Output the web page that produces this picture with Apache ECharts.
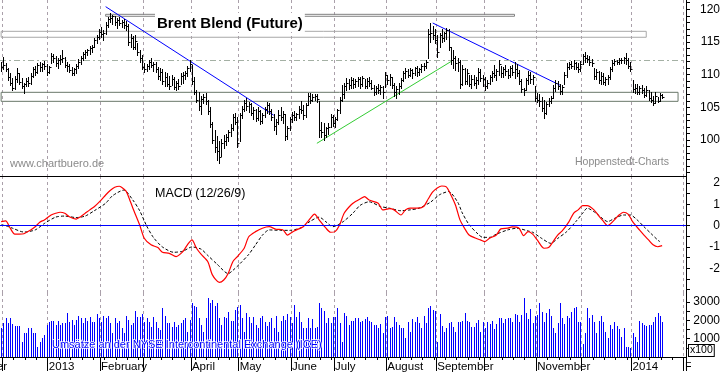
<!DOCTYPE html>
<html><head><meta charset="utf-8">
<script src="https://cdn.jsdelivr.net/npm/echarts@6/dist/echarts.min.js"></script>
<style>html,body{margin:0;padding:0;background:#fff}#c{width:723px;height:373px}</style>
</head><body><div id="c"></div>
<script>
// ---- Brent Blend (Future), daily bars, Dec 2012 - Jan 2014 ----
const high = [
112.0,112.7,111.8,111.0,110.2,109.5,109.8,111.0,110.3,109.5,
108.8,109.5,109.6,110.2,111.2,111.3,111.8,112.0,111.8,112.1,
111.6,111.4,113.3,113.1,112.8,112.6,113.0,113.8,112.7,112.0,
111.6,111.2,111.0,111.6,112.4,112.8,113.4,113.8,114.0,114.4,
114.6,115.6,116.0,117.0,117.3,116.8,118.0,118.8,119.4,119.2,
119.0,118.6,118.8,118.4,118.5,118.2,117.8,116.2,115.9,116.0,
114.8,113.8,113.0,111.8,111.6,112.3,112.5,112.0,111.9,111.2,
111.0,110.8,110.4,110.2,109.8,110.0,109.6,109.0,109.4,110.2,
110.4,110.6,111.4,112.2,111.5,109.6,107.6,107.3,106.8,107.0,
107.2,106.2,105.0,102.8,101.5,100.6,99.8,100.2,100.8,101.0,
101.6,102.5,104.0,104.2,103.5,104.2,105.2,106.2,106.4,105.8,
105.6,105.0,104.8,105.0,104.6,104.2,105.0,105.8,105.6,104.8,
104.0,103.2,104.6,105.0,104.4,104.0,102.2,103.5,104.3,104.5,
104.2,105.2,106.0,105.4,105.6,107.2,107.2,107.0,107.0,107.0,
106.0,102.8,102.6,102.0,102.6,104.0,103.8,103.6,104.8,106.6,
108.4,108.7,109.5,109.3,109.6,109.5,109.4,109.7,109.6,109.8,
109.4,109.5,109.6,109.2,108.4,108.2,108.5,108.4,108.3,110.4,
110.0,110.1,109.6,108.7,108.2,108.7,109.5,110.6,111.0,110.8,
111.0,110.9,111.2,111.3,111.0,111.6,111.8,112.2,117.0,117.9,
117.4,117.0,116.0,116.4,117.0,116.6,117.2,117.0,114.2,113.8,
112.8,112.5,112.2,111.5,111.0,110.8,110.0,109.9,110.0,109.6,
111.0,110.8,110.0,109.7,109.2,110.0,110.6,111.5,110.8,112.2,
111.4,111.2,111.5,110.9,111.3,111.5,112.0,111.6,110.7,109.4,
108.0,109.5,110.6,110.4,110.0,108.2,107.2,107.0,106.6,106.1,
105.8,106.4,106.8,108.4,109.2,109.0,108.6,108.4,110.4,111.8,
112.0,112.1,112.2,112.0,111.8,112.1,113.2,113.5,113.0,112.8,
112.4,111.0,110.8,110.6,110.4,110.2,109.7,110.0,111.2,112.2,
112.4,112.3,112.6,112.5,112.7,113.3,112.6,112.0,109.2,108.6,
108.5,108.3,108.4,108.0,108.3,107.6,107.4,106.8,107.4,106.6,
107.2,107.0];
const low = [
110.6,110.8,110.5,109.2,108.4,107.6,107.8,108.9,108.6,107.9,
107.2,108.2,108.3,108.5,109.6,109.9,110.3,110.6,110.5,110.9,
110.0,110.2,111.8,112.0,111.4,111.0,111.6,112.0,111.2,110.6,
110.4,110.0,110.0,110.3,111.0,111.6,112.2,112.6,113.0,113.2,
113.5,114.3,114.8,115.5,115.8,115.3,116.2,117.3,118.0,117.8,
117.6,117.2,117.6,117.3,117.2,116.9,114.5,114.2,113.9,114.0,
113.0,112.0,110.8,110.4,110.5,110.9,111.2,110.6,110.4,109.4,
109.2,108.6,108.3,108.2,107.8,108.4,107.8,107.6,107.8,108.6,
108.8,109.3,109.8,110.5,108.6,107.0,105.8,104.6,104.0,105.6,
105.5,104.0,102.0,99.5,98.2,97.0,96.5,97.6,98.8,99.3,
99.8,100.6,101.5,102.4,99.0,99.8,103.4,104.4,104.6,104.3,
103.8,103.2,102.9,103.0,102.5,102.6,103.6,104.2,104.0,103.0,
101.6,101.0,102.5,103.0,102.6,100.0,100.2,101.5,102.8,103.0,
103.0,103.4,104.2,103.2,103.6,105.4,105.7,105.9,106.2,105.8,
100.5,100.4,100.0,100.4,101.0,102.0,102.2,102.0,103.0,104.2,
106.0,106.5,107.6,107.8,108.0,108.0,108.1,108.2,108.0,108.3,
108.0,108.0,108.2,107.8,106.9,107.0,107.2,107.1,106.4,108.1,
108.6,108.4,108.0,106.8,106.4,107.0,108.0,109.0,109.5,109.6,
109.8,109.5,109.9,109.8,109.9,110.4,110.7,111.0,112.5,115.0,
115.4,114.8,112.7,114.2,115.0,115.2,115.4,113.8,111.6,111.0,
110.7,110.6,108.0,108.4,108.6,108.5,108.2,108.0,108.4,108.0,
108.5,109.0,108.3,107.7,107.9,108.6,109.0,109.6,109.2,110.0,
109.6,109.6,110.0,109.5,109.6,110.0,109.5,109.8,108.6,107.3,
106.9,107.6,108.5,108.8,108.6,106.0,105.8,105.2,104.4,103.3,
104.0,105.2,105.6,106.4,107.5,107.8,107.0,107.0,108.6,109.6,
110.8,111.0,110.9,110.8,110.4,110.6,111.6,112.0,111.9,111.5,
111.4,109.4,109.4,108.8,108.6,108.5,108.4,108.6,109.4,110.6,
111.5,111.6,111.7,111.8,111.8,111.6,111.0,110.6,107.4,107.2,
107.0,107.0,107.2,106.6,106.8,106.2,105.8,105.4,105.6,105.8,
105.9,106.4];
const close = [
111.2,111.5,110.9,109.6,108.8,108.0,109.3,110.2,108.9,108.3,
108.6,109.0,108.7,109.8,110.8,110.4,111.5,111.1,111.6,111.3,
110.4,111.2,112.8,112.6,111.8,112.2,112.4,112.5,111.5,111.4,
110.7,110.3,110.8,111.4,112.0,112.5,113.1,113.5,113.7,114.1,
114.3,115.3,115.8,116.6,116.2,116.4,117.6,118.5,118.7,118.9,
118.0,118.3,117.9,118.1,117.6,117.4,115.0,115.6,114.3,115.2,
113.4,112.6,111.2,110.8,111.3,112.0,111.5,111.6,110.8,109.8,
110.4,109.0,109.7,108.6,108.2,109.4,108.1,108.7,108.3,109.8,
110.0,110.2,111.0,111.6,109.0,107.3,106.2,105.2,106.3,106.6,
105.9,104.4,102.4,100.0,99.0,98.3,97.4,99.6,99.8,100.5,
101.2,101.8,103.6,102.8,99.6,103.8,104.8,105.6,105.2,105.5,
104.2,104.6,103.4,104.5,102.9,103.8,104.7,105.4,104.4,103.6,
102.2,102.8,103.9,103.5,104.0,100.6,101.8,103.2,103.8,103.5,
104.0,104.8,104.6,103.8,105.3,106.8,106.2,106.6,106.8,106.3,
101.6,101.2,100.8,101.8,102.0,103.5,102.6,103.2,104.6,106.2,
107.0,108.2,108.8,108.4,109.2,108.5,109.0,109.3,108.6,109.5,
108.3,109.1,108.8,108.0,107.4,107.9,107.6,108.1,107.4,110.0,
109.2,109.6,108.4,107.4,107.8,108.3,109.2,110.3,110.6,110.0,
110.7,110.2,111.0,110.4,110.8,111.3,111.4,112.0,116.2,116.4,
116.0,115.3,113.4,116.0,115.6,116.3,116.8,114.2,112.3,112.6,
111.8,112.0,108.6,110.8,109.0,110.2,108.6,109.4,108.8,109.2,
110.4,109.5,109.3,108.2,108.8,109.6,110.2,110.0,110.6,111.6,
110.2,110.8,110.5,110.0,111.0,110.4,110.8,110.2,109.0,107.8,
107.6,109.2,110.0,109.4,109.6,106.4,106.2,106.0,104.9,104.2,
105.5,106.0,106.5,107.9,108.8,108.3,107.5,108.1,110.0,111.2,
111.6,111.4,111.8,111.2,110.9,111.7,112.8,112.6,112.4,112.0,
111.8,109.8,110.4,109.2,109.8,108.9,109.3,109.7,110.9,111.8,
112.1,112.0,112.2,112.3,112.5,112.2,111.4,110.9,107.8,108.0,
107.4,107.9,107.6,106.9,107.7,106.5,106.2,105.7,106.8,106.0,
106.9,106.6];
// volume, x100 contracts
const volume = [
1600,1840,2110,1840,2150,1800,1690,1690,1690,840,
1290,1290,1600,1600,1290,1290,530,840,1020,1200,
1750,1890,1960,1960,1750,1960,1750,1840,1840,2420,
1890,2020,1750,2020,2260,2110,1840,2110,1960,2200,
1930,1890,2350,2110,1930,2260,2110,2260,1840,1290,
2110,1840,1960,1560,1290,2260,2020,1750,1840,2510,
2200,2200,2330,1930,2110,1930,1650,2200,1930,1560,
1470,2690,2260,1840,1840,1650,1930,1650,1750,1840,
2020,2110,1380,2020,2980,2800,2750,2110,1750,1380,
2150,3240,2930,3110,2800,2960,2110,1750,2200,2110,
2440,1960,1960,2560,2750,2870,2110,1380,2420,2200,
1840,2200,1750,1560,2110,2260,1930,1690,1890,2110,
1560,2260,1380,1960,2260,2020,2330,2200,1840,2840,
2200,2440,1930,1560,1600,2110,1560,2070,1560,1650,
2980,2660,2510,1840,2110,1840,2200,2200,2660,1840,
840,2380,2260,1750,1960,1960,2110,2110,1890,1960,
2070,2200,1960,1890,1750,1750,1560,1800,1290,2200,
2260,1600,1650,2200,1890,1750,1560,1560,1020,1930,
1380,2070,1930,2200,1840,1560,2260,1840,2660,2800,
2560,2530,840,2330,1710,1380,1560,1840,1930,1650,
1380,1930,
1930,1960,2420,1960,1930,1650,1650,1840,2020,1380,
1930,1560,1890,1800,1960,1530,1800,2110,2110,1840,
2070,2150,2150,1890,2330,2290,1890,2290,3200,2380,
2070,2620,1840,2260,2290,2930,2470,1930,2380,2620,
2260,1560,1290,1840,2980,2110,1800,2260,2150,2440,
2660,2750,1930,1890,690,1290,2660,2150,2290,1930,
1290,1960,2260,1930,1350,1020,1750,1530,1890,1710,
1530,1110,1560,560,530,510,1290,1110,840,1980,
1840,1750,1690,1750,1750,1930,2200,2380,2260,1930];
// MACD (12/26/9): [day index, value]
const macd = [[0,0.19],[2,0.22],[4,-0.12],[6,-0.40],[8,-0.40],[10,-0.38],[13,-0.20],[15,-0.05],[17,0.16],[19,0.27],[22,0.50],[24,0.58],[26,0.63],[28,0.58],[30,0.42],[33,0.31],[35,0.42],[37,0.58],[39,0.74],[41,0.89],[44,1.20],[46,1.44],[48,1.65],[50,1.80],[52,1.85],[53,1.80],[55,1.62],[56,1.38],[58,0.82],[61,0.03],[63,-0.59],[66,-0.90],[69,-1.03],[71,-1.25],[74,-1.30],[77,-1.45],[80,-1.22],[82,-0.90],[84,-0.67],[86,-1.06],[88,-1.34],[91,-1.69],[93,-2.31],[96,-2.66],[98,-2.55],[100,-2.23],[102,-1.69],[104,-1.45],[107,-1.06],[109,-0.52],[112,-0.28],[115,-0.12],[118,-0.05],[121,-0.17],[124,-0.19],[126,-0.44],[129,-0.25],[133,-0.05],[135,0.19],[138,0.54],[140,0.27],[143,-0.12],[145,-0.31],[147,-0.28],[149,0.03],[151,0.58],[154,0.97],[156,1.13],[158,1.25],[160,1.36],[162,1.20],[166,1.05],[168,0.74],[171,0.80],[173,0.74],[176,0.50],[178,0.74],[180,0.82],[183,0.82],[186,0.90],[188,1.25],[190,1.58],[192,1.77],[194,1.86],[196,1.82],[198,1.44],[200,0.97],[202,0.27],[204,-0.12],[206,-0.44],[209,-0.59],[211,-0.67],[213,-0.75],[215,-0.59],[218,-0.44],[220,-0.15],[223,-0.12],[225,-0.06],[228,-0.12],[230,-0.47],[232,-0.28],[234,-0.40],[236,-0.67],[239,-1.06],[241,-1.03],[243,-0.75],[245,-0.44],[247,-0.25],[250,0.19],[252,0.58],[254,0.74],[256,0.94],[258,0.94],[261,0.74],[263,0.47],[265,0.22],[267,0.00],[270,0.27],[272,0.50],[274,0.63],[276,0.54],[278,0.19],[281,-0.20],[283,-0.44],[285,-0.67],[287,-0.90],[289,-0.99],[291,-0.94]];
const signal = [[0,0.03],[2,0.00],[5,-0.12],[10,-0.30],[15,-0.20],[19,0.10],[24,0.40],[28,0.45],[33,0.38],[37,0.45],[41,0.70],[46,1.05],[49,1.40],[54,1.67],[58,1.20],[61,0.70],[64,0.00],[67,-0.55],[71,-1.00],[76,-1.25],[80,-1.20],[84,-1.00],[88,-1.10],[91,-1.40],[95,-1.80],[100,-2.25],[102,-2.10],[105,-1.80],[109,-1.35],[112,-0.90],[115,-0.45],[118,-0.20],[123,-0.22],[127,-0.22],[132,-0.10],[136,0.20],[140,0.40],[143,0.18],[146,-0.05],[148,0.02],[151,0.22],[155,0.60],[158,0.95],[162,1.12],[167,0.90],[171,0.82],[176,0.70],[180,0.74],[184,0.82],[189,1.10],[193,1.45],[197,1.60],[201,1.10],[203,0.60],[206,0.05],[210,-0.40],[212,-0.55],[215,-0.55],[218,-0.40],[223,-0.20],[227,-0.12],[232,-0.25],[234,-0.31],[238,-0.60],[242,-0.83],[245,-0.60],[249,-0.28],[253,0.19],[256,0.58],[258,0.82],[262,0.58],[265,0.31],[267,0.19],[270,0.34],[274,0.50],[277,0.50],[280,0.27],[283,-0.05],[286,-0.36],[289,-0.67],[290,-0.75]];
// calendar (trading-day slots) and month starts
const slotCount = 302;
const monthStarts = [1, 21, 44, 63, 84, 105, 128, 147, 170, 192, 213, 236, 256, 278, 301];
const monthLabels = ['', '2013', 'February', '', 'April', 'May', 'June', 'July', 'August', 'September', '', 'November', '', '2014', ''];
const priceTicks = [100, 105, 110, 115, 120];
const macdTicks = [-2, -1, 0, 1, 2];
const volumeTicks = [1000, 2000, 3000];
// chart annotations (day index, price)
const trendDown1 = [[46, 120.4], [120, 103.8]];
const trendDown2 = [[190, 117.9], [246, 108.4]];
const trendUp = [[139, 99.5], [198, 112.0]];
const titleBox = [[46, 119.23], [226, 118.93]];
const upperBand = [[0, 116.63], [284, 115.72]];
const supportBand = [[0, 107.30], [298, 105.92]];
const resistanceLevel = 112.17;

const days = Array.from({length: slotCount}, (_, i) => String(i));
const FONT = '"Liberation Sans", Arial, sans-serif';
const isMonth = (i) => monthStarts.indexOf(i) >= 0;
const gridColor = '#aaa0aa';

function xAxisFor(g) {
  return {
    type: 'category', gridIndex: g, data: days, boundaryGap: true,
    axisLine: {show: true, lineStyle: {color: '#000', width: 1}},
    axisTick: {show: false}, axisLabel: {show: false},
    splitLine: {show: true, interval: (i) => isMonth(i), lineStyle: {color: gridColor, type: [3, 3], width: 1}}
  };
}
const xMain = xAxisFor(2);
xMain.axisTick = {show: true, interval: (i) => isMonth(i), length: 14, lineStyle: {color: '#000'}};
xMain.axisLabel = {
  show: true, interval: (i) => isMonth(i) && monthLabels[monthStarts.indexOf(i)] !== '',
  formatter: (v) => { const k = monthStarts.indexOf(Number(v)); return k >= 0 ? monthLabels[k] : ''; },
  align: 'left', margin: 4, color: '#000', fontSize: 11.5, fontFamily: FONT
};
const xWeek = {
  type: 'category', gridIndex: 2, data: days, boundaryGap: true, position: 'bottom',
  axisLine: {show: false}, axisLabel: {show: false}, splitLine: {show: false},
  axisTick: {show: true, interval: (i) => i % 5 === 1, length: 3, lineStyle: {color: '#000'}}
};

const priceMinor = []; for (let v = 95; v <= 121; v++) priceMinor.push(v);
const macdMinor = []; for (let v = -3; v <= 2; v += 0.5) macdMinor.push(v);
const volMinor = []; for (let v = 500; v <= 3000; v += 500) volMinor.push(v);

function yAxisFor(g, min, max, labels, ticks) {
  return {
    type: 'value', gridIndex: g, position: 'right', min: min, max: max,
    axisLine: {show: true, lineStyle: {color: '#000', width: 1}},
    axisTick: {show: true, customValues: ticks, length: 4, lineStyle: {color: '#000'}},
    axisLabel: {show: true, customValues: labels, align: 'right', margin: 34, color: '#000', fontSize: 12, fontFamily: FONT,
      formatter: (v) => String(v)},
    splitLine: {show: false}
  };
}

const ohlc = high.map((h, i) => [i, h, low[i], close[i]]);
const vol = volume.map((v, i) => [i, v]);

const chart = echarts.init(document.getElementById('c'), null, {renderer: 'canvas'});
chart.setOption({
  animation: false,
  backgroundColor: '#fff',
  textStyle: {fontFamily: FONT},
  grid: [
    {left: 0, right: 37, top: 0, height: 176, outerBoundsMode: 'none', containLabel: false},
    {left: 0, right: 37, top: 176, height: 117, outerBoundsMode: 'none', containLabel: false},
    {left: 0, right: 37, top: 293, height: 64, outerBoundsMode: 'none', containLabel: false}
  ],
  xAxis: [xAxisFor(0), xAxisFor(1), xMain, xWeek],
  yAxis: [
    yAxisFor(0, 94.5, 121.42, priceTicks, priceMinor),
    yAxisFor(1, -3.16, 2.33, macdTicks, macdMinor),
    yAxisFor(2, 0, 3500, volumeTicks, volMinor)
  ],
  series: [
    {
      type: 'custom', name: 'Brent', xAxisIndex: 0, yAxisIndex: 0, data: ohlc,
      encode: {x: 0, y: [1, 2, 3]}, clip: true, z: 5,
      renderItem: function (params, api) {
        const i = api.value(0);
        const pH = api.coord([i, api.value(1)]);
        const pL = api.coord([i, api.value(2)]);
        const pC = api.coord([i, api.value(3)]);
        const x = Math.round(pH[0]) + 0.5;
        const yc = Math.round(pC[1]) + 0.5;
        return {type: 'group', children: [
          {type: 'line', shape: {x1: x, y1: Math.round(pH[1]), x2: x, y2: Math.round(pL[1]) + 1}, style: {stroke: '#000', lineWidth: 1}},
          {type: 'line', shape: {x1: x, y1: yc, x2: x + 2, y2: yc}, style: {stroke: '#000', lineWidth: 1}}
        ]};
      },
      markArea: {
        silent: true,
        data: [
          [{coord: titleBox[0], itemStyle: {color: 'rgba(0,0,0,0)', borderColor: '#808080', borderWidth: 1}}, {coord: titleBox[1]}],
          [{coord: upperBand[0], itemStyle: {color: 'rgba(0,0,0,0)', borderColor: '#a8a8a8', borderWidth: 1}}, {coord: upperBand[1]}],
          [{coord: supportBand[0], itemStyle: {color: 'rgba(0,0,0,0)', borderColor: '#6a786a', borderWidth: 1}}, {coord: supportBand[1]}]
        ]
      },
      markLine: {
        silent: true, symbol: ['none', 'none'], label: {show: false},
        data: [
          [{coord: trendDown1[0], lineStyle: {color: '#0000ff', width: 1, type: 'solid'}}, {coord: trendDown1[1]}],
          [{coord: trendDown2[0], lineStyle: {color: '#0000ff', width: 1, type: 'solid'}}, {coord: trendDown2[1]}],
          [{coord: trendUp[0], lineStyle: {color: '#33cc33', width: 1, type: 'solid'}}, {coord: trendUp[1]}],
          {yAxis: resistanceLevel, lineStyle: {color: '#a4b0a4', width: 1, type: [6, 3, 2, 3]}}
        ]
      }
    },
    {
      type: 'line', name: 'MACD', xAxisIndex: 1, yAxisIndex: 1, data: macd,
      symbol: 'none', smooth: 0.25, lineStyle: {color: '#ff0000', width: 1.2}, z: 4,
      markLine: {silent: true, symbol: ['none', 'none'], label: {show: false},
        data: [{yAxis: 0, lineStyle: {color: '#0000ff', width: 1, type: 'solid'}}]}
    },
    {
      type: 'line', name: 'Signal', xAxisIndex: 1, yAxisIndex: 1, data: signal,
      symbol: 'none', smooth: 0.25, lineStyle: {color: '#000', width: 1, type: [3, 2]}, z: 3
    },
    {
      type: 'custom', name: 'Volume', xAxisIndex: 2, yAxisIndex: 2, data: vol,
      encode: {x: 0, y: 1}, clip: true,
      renderItem: function (params, api) {
        const i = api.value(0);
        const p0 = api.coord([i, 0]);
        const p1 = api.coord([i, api.value(1)]);
        const x = Math.round(p0[0]) + 0.5;
        return {type: 'line', shape: {x1: x, y1: p0[1], x2: x, y2: Math.round(p1[1])}, style: {stroke: '#0000ff', lineWidth: 1}};
      }
    }
  ],
  graphic: [
    {type: 'text', z: 100, x: 155, y: 13, style: {text: 'Brent Blend (Future)', font: 'bold 15px ' + FONT, fill: '#000', backgroundColor: '#fff', padding: [3, 2, 1, 2]}},
    {type: 'text', z: 100, x: 10, y: 158, style: {text: 'www.chartbuero.de', font: '11px ' + FONT, fill: '#8a8a8a'}},
    {type: 'text', z: 100, x: 575, y: 157, style: {text: 'Hoppenstedt-Charts', font: '10.5px ' + FONT, fill: '#8a8a8a'}},
    {type: 'text', z: 100, x: 155, y: 187, style: {text: 'MACD (12/26/9)', font: '12.5px ' + FONT, fill: '#000'}},
    {type: 'text', z: 100, x: 52, y: 339, style: {text: 'Umsätze an der NYSE Intercontinental Exchange (ICE)', font: '11px ' + FONT, fill: '#0000ff', stroke: '#ffffff', lineWidth: 1.5}},
    {type: 'text', z: 100, x: 689, y: 345, style: {text: 'x100', font: '10.5px ' + FONT, fill: '#000', backgroundColor: '#fff', borderColor: '#000', borderWidth: 1, padding: [0, 1, 0, 1]}},
    {type: 'text', z: 100, x: -46, y: 361, style: {text: 'November', font: '11.5px ' + FONT, fill: '#000'}},
    {type: 'text', z: 100, x: 685, y: 361, style: {text: 'February', font: '11.5px ' + FONT, fill: '#000'}},
    {type: 'rect', z: 101, shape: {x: 691, y: 358, width: 32, height: 15}, style: {fill: '#fff'}}
  ]
});
</script></body></html>
